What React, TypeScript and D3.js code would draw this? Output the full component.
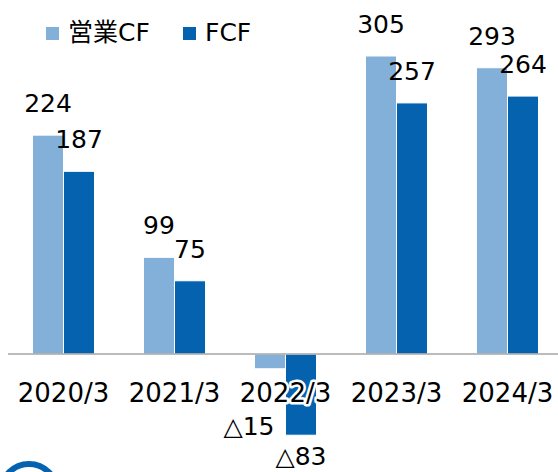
import React from 'react';
import * as d3 from 'd3';

// fiscal years and cash-flow values (億円)
const categories = ['2020/3', '2021/3', '2022/3', '2023/3', '2024/3'];
const operatingCF = [224, 99, -15, 305, 293];
const freeCF = [187, 75, -83, 257, 264];
const seriesNames = ['営業CF', 'FCF'];
const colors = ['#82B0D9', '#0562AF'];

const W = 558;
const H = 472;
const FONT = "'DejaVu Sans', Verdana, 'Noto Sans CJK JP', sans-serif";

const fmt = (v: number) => (v < 0 ? `△${Math.abs(v)}` : `${v}`);

export default function App() {
  const x0 = d3.scaleBand<string>().domain(categories).range([8, 563]).padding(0);
  const barW = 31;
  const y = d3.scaleLinear().domain([-83, 305]).range([435.2, 56]);
  const y0 = y(0);

  const series = [operatingCF, freeCF];

  return (
    <svg width={W} height={H} style={{ position: 'absolute', left: 0, top: 0, background: '#fff' }}
      fontFamily={FONT}>
      {/* bars */}
      {series.map((vals, si) =>
        vals.map((v, i) => {
          const gx = x0(categories[i])! + x0.bandwidth() / 2 - barW;
          const bx = gx + si * barW;
          const top = Math.min(y(v), y0);
          const h = Math.abs(y(v) - y0);
          return (
            <rect key={`b${si}-${i}`} x={bx} y={top} width={barW} height={h}
              fill={colors[si]} stroke="#fff" strokeWidth={1} />
          );
        })
      )}

      {/* zero line */}
      <line x1={8} x2={558} y1={y0} y2={y0} stroke="#A6A6A6" strokeWidth={1.5} />

      {/* category labels with white halo */}
      {categories.map(c => (
        <text key={c} x={x0(c)! + x0.bandwidth() / 2} y={402} textAnchor="middle"
          fontSize={26} fill="#000" stroke="#fff" strokeWidth={5} strokeLinejoin="round"
          style={{ paintOrder: 'stroke' }}>
          {c}
        </text>
      ))}

      {/* value labels */}
      {series.map((vals, si) =>
        vals.map((v, i) => {
          const cx = x0(categories[i])! + x0.bandwidth() / 2 - barW + si * barW + barW / 2;
          let lx = cx;
          let ly = y(v) - 23;
          if (v < 0) {
            if (si === 0) {
              lx = cx - 21;
              ly = y0 + 81;
            } else {
              ly = y(v) + 30;
            }
          }
          return (
            <text key={`l${si}-${i}`} x={lx} y={ly} textAnchor="middle" fontSize={25} fill="#000">
              {fmt(v)}
            </text>
          );
        })
      )}

      {/* legend */}
      <g>
        <rect x={46} y={27} width={13} height={13} fill={colors[0]} />
        <text x={68} y={41} fontSize={25} fill="#000">{seriesNames[0]}</text>
        <rect x={183} y={27} width={13} height={13} fill={colors[1]} />
        <text x={205} y={41} fontSize={25} fill="#000">{seriesNames[1]}</text>
      </g>

      {/* partial logo at the bottom-left corner */}
      <circle cx={29} cy={492} r={28} fill="none" stroke={colors[1]} strokeWidth={6} />
      <circle cx={29} cy={495} r={19} fill={colors[1]} />
    </svg>
  );
}
